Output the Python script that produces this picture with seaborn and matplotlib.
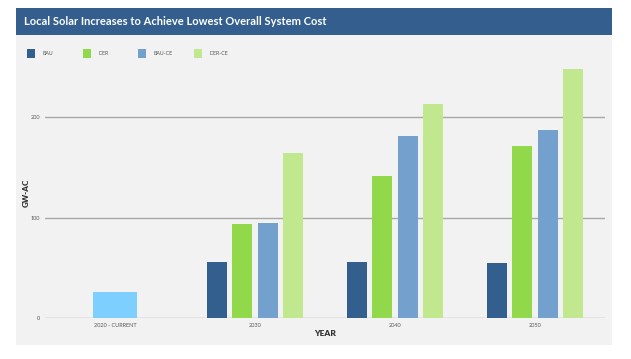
import matplotlib
matplotlib.use("Agg")
import matplotlib.pyplot as plt
import seaborn as sns
import pandas as pd
from matplotlib.patches import Rectangle

# ---- data ----
categories = ["2020 - CURRENT", "2030", "2040", "2050"]
series = ["BAU", "DER", "BAU-CE", "DER-CE"]
current_value = [25.8]
future_years = ["2030", "2040", "2050"]
bau = [56, 55.5, 54.5]
der = [94, 141.5, 171]
bau_ce = [95, 181, 187]
der_ce = [164, 212.5, 247]
yticks = [0, 100, 200]
title = "Local Solar Increases to Achieve Lowest Overall System Cost"

colors = {"BAU": "#335f8f", "DER": "#92d84b", "BAU-CE": "#74a0ce", "DER-CE": "#c1e88f"}
current_color = "#7ccfff"

W, H = 631, 359
sns.set_theme(style="white")
plt.rcParams["font.family"] = ["Lato", "DejaVu Sans"]

fig = plt.figure(figsize=(W / 100, H / 100), dpi=100, facecolor="white")

def fx(px):
    return px / W

def fy(py):
    return 1 - py / H

# panel background and title banner
fig.add_artist(Rectangle((fx(16), fy(345)), fx(612) - fx(16), fy(35) - fy(345),
                         transform=fig.transFigure, facecolor="#f2f2f2", edgecolor="none", zorder=0))
fig.add_artist(Rectangle((fx(16), fy(35)), fx(612) - fx(16), fy(8.3) - fy(35),
                         transform=fig.transFigure, facecolor="#335e8e", edgecolor="none", zorder=0))
fig.text(fx(24), fy(21.2), title, color="white", fontsize=8.05, fontweight="bold",
         va="center", ha="left")

ax = fig.add_axes([fx(45), fy(318.3), fx(605) - fx(45), fy(66.3) - fy(318.3)])
ax.patch.set_alpha(0)

df_cur = pd.DataFrame({"cat": [categories[0]], "val": current_value})
sns.barplot(data=df_cur, x="cat", y="val", order=categories, color=current_color,
            width=0.314, saturation=1, linewidth=0, ax=ax, zorder=3)

rows = []
for name, vals in zip(series, [bau, der, bau_ce, der_ce]):
    for yr, v in zip(future_years, vals):
        rows.append({"cat": yr, "series": name, "val": v})
df = pd.DataFrame(rows)
sns.barplot(data=df, x="cat", y="val", hue="series", order=categories, hue_order=series,
            palette=colors, width=0.72, gap=0.206, saturation=1, linewidth=0,
            legend=False, ax=ax, zorder=3)

ax.set_xlim(-0.5, 3.5)
ax.set_ylim(0, 250)
ax.set_yticks(yticks)
ax.set_yticklabels([str(t) for t in yticks])
ax.yaxis.grid(True, color="#a8a8a8", linewidth=1.0, zorder=1)
ax.set_axisbelow(True)
for s in ax.spines.values():
    s.set_visible(False)
ax.tick_params(axis="both", length=0, labelsize=4, labelcolor="#555555")
ax.tick_params(axis="y", pad=3.6)
ax.tick_params(axis="x", pad=3.5)
ax.set_xlabel("")
ax.set_ylabel("")

fig.text(fx(325), fy(333.3), "YEAR", fontsize=6, fontweight="heavy", color="#333333",
         ha="center", va="center")
fig.text(fx(26.7), fy(193.3), "GW-AC", fontsize=5.8, fontweight="heavy", color="#333333",
         ha="center", va="center", rotation=90)

# legend
for i, name in enumerate(series):
    x0 = 27.3 + 55.5 * i
    fig.add_artist(Rectangle((fx(x0), fy(58.3)), fx(8), fy(49.3) - fy(58.3),
                             transform=fig.transFigure, facecolor=colors[name], edgecolor="none"))
    fig.text(fx(x0 + 15.4), fy(53.8), name, fontsize=3.8, color="#555555", ha="left", va="center")

fig.savefig("out.png", dpi=100, facecolor="white")
